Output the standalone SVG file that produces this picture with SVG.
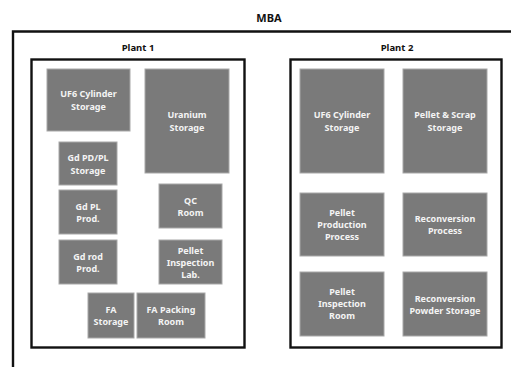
<svg xmlns="http://www.w3.org/2000/svg" width="511" height="367" viewBox="0 0 511 367">
  <style>
    .frame { fill: none; stroke: #111; stroke-width: 2.4; }
    .title { font-family: "Noto Sans", "Liberation Sans", sans-serif; font-weight: bold; fill: #111; text-anchor: middle; }
    .room { fill: #7a7a7a; stroke: #a8a8a8; stroke-width: 1; }
    .label { font-family: "Noto Sans", "Liberation Sans", sans-serif; font-weight: bold; font-size: 9px; fill: #f4f4f4; text-anchor: middle; }
  </style>
  <rect width="511" height="367" fill="#fff"/>

  <!-- material balance area frame, open to the right and bottom -->
  <g id="mba">
    <path class="frame" d="M13 367 V31.5 H511"/>
    <text class="title" x="269" y="22" font-size="11">MBA</text>
  </g>

  <!-- Plant 1 -->
  <g id="plant1">
    <rect class="frame" x="31.5" y="59.5" width="213" height="288"/>
    <text class="title" x="138" y="51" font-size="9.5">Plant 1</text>
  </g>
  <g id="p1-uf6">
    <rect class="room" x="47" y="69" width="83" height="62"/>
    <text class="label" x="88.5" y="97">UF6 Cylinder</text>
    <text class="label" x="88.5" y="110">Storage</text>
  </g>
  <g id="p1-uranium">
    <rect class="room" x="145" y="69" width="84" height="104"/>
    <text class="label" x="187" y="118">Uranium</text>
    <text class="label" x="187" y="131">Storage</text>
  </g>
  <g id="p1-gdpdpl">
    <rect class="room" x="59" y="142" width="58" height="43"/>
    <text class="label" x="88" y="161">Gd PD/PL</text>
    <text class="label" x="88" y="174">Storage</text>
  </g>
  <g id="p1-gdpl">
    <rect class="room" x="59" y="190" width="58" height="44"/>
    <text class="label" x="88" y="210">Gd PL</text>
    <text class="label" x="88" y="222">Prod.</text>
  </g>
  <g id="p1-qc">
    <rect class="room" x="159" y="184" width="63" height="44"/>
    <text class="label" x="190.5" y="204">QC</text>
    <text class="label" x="190.5" y="216">Room</text>
  </g>
  <g id="p1-gdrod">
    <rect class="room" x="59" y="240" width="58" height="44"/>
    <text class="label" x="88" y="260">Gd rod</text>
    <text class="label" x="88" y="272">Prod.</text>
  </g>
  <g id="p1-pil">
    <rect class="room" x="159" y="240" width="63" height="44"/>
    <text class="label" x="190.5" y="254">Pellet</text>
    <text class="label" x="190.5" y="266">Inspection</text>
    <text class="label" x="190.5" y="278">Lab.</text>
  </g>
  <g id="p1-fastorage">
    <rect class="room" x="88" y="293" width="46" height="45"/>
    <text class="label" x="111" y="313">FA</text>
    <text class="label" x="111" y="325">Storage</text>
  </g>
  <g id="p1-fapacking">
    <rect class="room" x="137" y="293" width="68" height="45"/>
    <text class="label" x="171" y="313">FA Packing</text>
    <text class="label" x="171" y="325">Room</text>
  </g>

  <!-- Plant 2 -->
  <g id="plant2">
    <rect class="frame" x="290.5" y="59.5" width="211" height="288"/>
    <text class="title" x="397" y="51" font-size="9.5">Plant 2</text>
  </g>
  <g id="p2-uf6">
    <rect class="room" x="300" y="69" width="84" height="104"/>
    <text class="label" x="342" y="118">UF6 Cylinder</text>
    <text class="label" x="342" y="131">Storage</text>
  </g>
  <g id="p2-pelletscrap">
    <rect class="room" x="403" y="69" width="84" height="104"/>
    <text class="label" x="445" y="118">Pellet &amp; Scrap</text>
    <text class="label" x="445" y="131">Storage</text>
  </g>
  <g id="p2-pelletprod">
    <rect class="room" x="300" y="193" width="84" height="63"/>
    <text class="label" x="342" y="216">Pellet</text>
    <text class="label" x="342" y="228">Production</text>
    <text class="label" x="342" y="240">Process</text>
  </g>
  <g id="p2-reconv">
    <rect class="room" x="403" y="193" width="84" height="63"/>
    <text class="label" x="445" y="222">Reconversion</text>
    <text class="label" x="445" y="234">Process</text>
  </g>
  <g id="p2-pelletinsp">
    <rect class="room" x="300" y="272" width="84" height="64"/>
    <text class="label" x="342" y="295">Pellet</text>
    <text class="label" x="342" y="307">Inspection</text>
    <text class="label" x="342" y="319">Room</text>
  </g>
  <g id="p2-reconvpowder">
    <rect class="room" x="403" y="272" width="84" height="64"/>
    <text class="label" x="445" y="302">Reconversion</text>
    <text class="label" x="445" y="314">Powder Storage</text>
  </g>

  <!-- no connectors in this layout -->
  <g id="connectors"/>
</svg>
